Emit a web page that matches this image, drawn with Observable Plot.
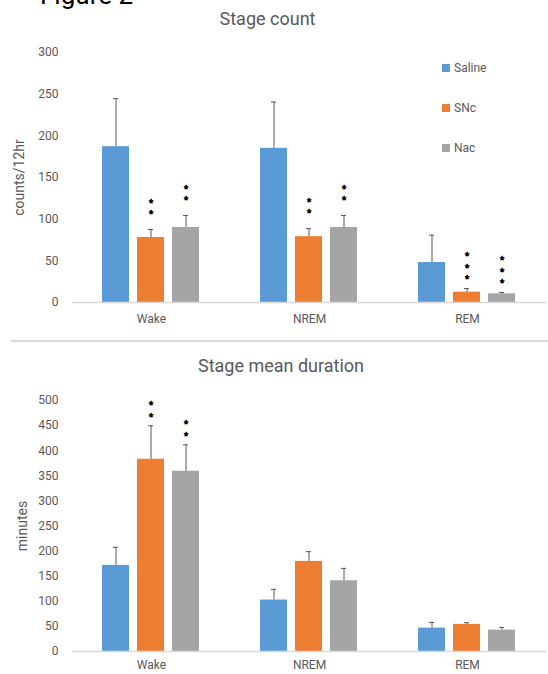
<!DOCTYPE html>
<html><head><meta charset="utf-8">
<script src="https://cdn.jsdelivr.net/npm/d3@7"></script>
<script src="https://cdn.jsdelivr.net/npm/@observablehq/plot@0.6"></script>
<style>
body{margin:0;background:#fff;font-family:Roboto,"Open Sans",sans-serif;}
#wrap{position:relative;width:548px;height:674px;overflow:hidden;background:#fff;}
.abs{position:absolute;}
.title{font-size:18px;color:#595959;text-align:center;line-height:18px;white-space:nowrap;}
.leg{position:absolute;left:442px;font-size:12px;color:#595959;line-height:12px;white-space:nowrap;}
.leg span{display:inline-block;width:8px;height:8px;margin-right:4px;vertical-align:0px;}
</style></head><body><div id="wrap">
<div class="abs" style="left:40px;top:-18px;font-size:26px;line-height:26px;color:#000;">Figure 2</div>
<div class="abs title" style="left:0;top:10px;width:535px;">Stage count</div>
<div class="abs" id="top" style="left:0;top:32px;"></div>
<div class="abs" style="left:11px;top:340px;width:537px;height:1.5px;background:#d9d9d9;"></div>
<div class="abs title" style="left:0;top:357px;width:562px;">Stage mean duration</div>
<div class="abs" id="bot" style="left:0;top:380px;"></div>
<div id="legend"></div>
</div>
<script>
const stages = ["Wake", "NREM", "REM"];
const groups = ["Saline", "SNc", "Nac"];
const colors = ["#5B9BD5", "#ED7D31", "#A5A5A5"];

// Stage count (counts/12hr)
const countSaline = [187, 185, 48];
const countSNc = [78, 79, 12.4];
const countNac = [90, 90, 10.4];
const countSalineErr = [57.6, 55.6, 32.8];
const countSNcErr = [9.6, 9.6, 4.4];
const countNacErr = [14.4, 14.4, 1.6];
const countSig = { Saline: ["", "", ""], SNc: ["**", "**", "***"], Nac: ["**", "**", "***"] };

// Stage mean duration (minutes)
const durSaline = [171.5, 102.5, 46.6];
const durSNc = [383, 179.5, 53.9];
const durNac = [359, 141, 42.6];
const durSalineErr = [36, 21.2, 11.3];
const durSNcErr = [66.6, 19.4, 3.4];
const durNacErr = [52.7, 24.6, 5.3];
const durSig = { Saline: ["", "", ""], SNc: ["**", "", ""], Nac: ["**", "", ""] };

const countTicks = [0, 50, 100, 150, 200, 250, 300];
const durTicks = [0, 50, 100, 150, 200, 250, 300, 350, 400, 450, 500];

function table(vals, errs, sig) {
  const rows = [];
  groups.forEach((g, gi) => {
    stages.forEach((s, si) => {
      rows.push({stage: s, group: g, value: vals[gi][si], hi: vals[gi][si] + errs[gi][si], sig: sig[g][si]});
    });
  });
  return rows;
}
const countData = table([countSaline, countSNc, countNac], [countSalineErr, countSNcErr, countNacErr], countSig);
const durData = table([durSaline, durSNc, durNac], [durSalineErr, durSNcErr, durNacErr], durSig);

// one text mark per stacked asterisk level (constant pixel offset above the error bar)
function starMarks(data, gapFor) {
  const byOff = new Map();
  data.forEach(d => {
    const n = d.sig.length;
    for (let k = 0; k < n; k++) {
      const off = gapFor(n) + k * 11.7;
      if (!byOff.has(off)) byOff.set(off, []);
      byOff.get(off).push(d);
    }
  });
  return [...byOff].map(([off, rows]) =>
    Plot.text(rows, {fx: "stage", x: "group", y: "hi", text: () => "*", lineAnchor: "middle", textAnchor: "middle", dy: -off + 2, fontSize: 8.5, fontFamily: "'Open Sans', sans-serif", fill: "#000", stroke: "#000", strokeWidth: 0.7})
  );
}

function chart(data, ticks, label, labelOffset, plotH, mb, fxPad, gapFor) {
  const ymax = ticks[ticks.length - 1];
  return Plot.plot({
    width: 548,
    height: 20 + plotH + mb,
    marginTop: 20,
    marginBottom: mb,
    marginLeft: 71,
    marginRight: 1.5,
    style: {fontFamily: "Roboto, 'Open Sans', sans-serif", fontSize: "12px", color: "#595959", background: "transparent", overflow: "visible"},
    fx: {domain: stages, padding: 0, label: null, axis: "bottom", tickSize: 0, tickPadding: fxPad},
    x: {domain: groups, axis: null, paddingInner: 0.22, paddingOuter: 0.855},
    y: {domain: [0, ymax], axis: null},
    color: {domain: groups, range: colors},
    marks: [
      Plot.axisY({ticks: ticks, tickSize: 0, tickPadding: 14, label: null, fontSize: 12}),
      Plot.axisY({ticks: [], tickSize: 0, label: label, labelAnchor: "center", labelOffset: labelOffset, labelArrow: "none", fontSize: 14}),
      Plot.barY(data, {fx: "stage", x: "group", y: "value", fill: "group"}),
      Plot.ruleY([0], {stroke: "#d9d9d9", strokeWidth: 1.5}),
      Plot.ruleX(data, {fx: "stage", x: "group", y1: "value", y2: "hi", stroke: "#595959", strokeWidth: 1}),
      Plot.tickY(data, {fx: "stage", x: "group", y: "hi", stroke: "#595959", strokeWidth: 1, insetLeft: 11, insetRight: 11}),
      ...starMarks(data, gapFor)
    ]
  });
}

document.getElementById("top").appendChild(chart(countData, countTicks, "counts/12hr", 58, 250, 30, 12, n => (n === 3 ? 11 : 17)));
document.getElementById("bot").appendChild(chart(durData, durTicks, "minutes", 55, 251, 23, 9, n => 11));

const leg = document.getElementById("legend");
groups.forEach((g, i) => {
  const d = document.createElement("div");
  d.className = "leg";
  d.style.top = (62 + i * 40.2) + "px";
  d.innerHTML = `<span style="background:${colors[i]}"></span>${g}`;
  leg.appendChild(d);
});
</script>
</body></html>
